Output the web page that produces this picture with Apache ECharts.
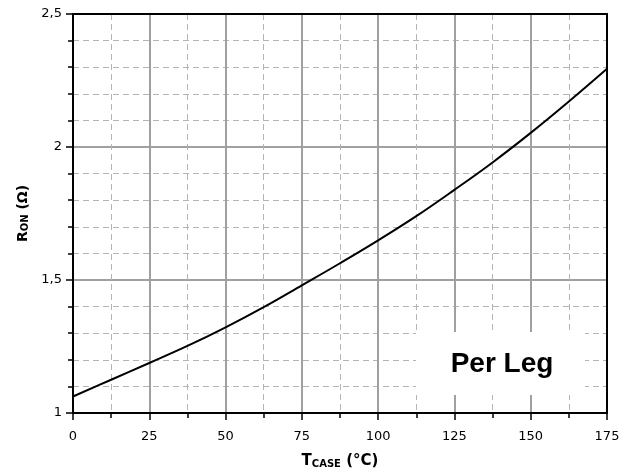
<!DOCTYPE html>
<html>
<head>
<meta charset="utf-8">
<script src="https://cdn.jsdelivr.net/npm/echarts@6/dist/echarts.min.js"></script>
<style>html,body{margin:0;padding:0;background:#fff}#c{width:627px;height:475px}</style>
</head>
<body>
<div id="c"></div>
<script>
var tCase = [0, 12.5, 25, 37.5, 50, 62.5, 75, 87.5, 100, 112.5, 125, 137.5, 150, 162.5, 175];
var rOn = [1.062, 1.125, 1.188, 1.252, 1.322, 1.398, 1.480, 1.563, 1.649, 1.740, 1.839, 1.942, 2.053, 2.171, 2.294];
var xTicks = [0, 25, 50, 75, 100, 125, 150, 175];
var yTicks = [1, 1.5, 2, 2.5];
var annotation = 'Per Leg';

var chart = echarts.init(document.getElementById('c'));
var pts = tCase.map(function (t, i) { return [t, rOn[i]]; });
var labelFont = 'DejaVu Sans';
var xMin = xTicks[0], xMax = xTicks[xTicks.length - 1];
var yMin = yTicks[0], yMax = yTicks[yTicks.length - 1];
chart.setOption({
  animation: false,
  backgroundColor: '#fff',
  grid: { left: 73, right: 20, top: 14, bottom: 62 },
  xAxis: [{
    type: 'value', min: xMin, max: xMax, interval: 25,
    axisLine: { onZero: false, lineStyle: { color: '#000', width: 2 } },
    axisTick: { show: true, inside: false, length: 7, lineStyle: { color: '#000', width: 1.5 } },
    minorTick: { show: true, splitNumber: 2, length: 5, lineStyle: { color: '#000', width: 1.5 } },
    splitLine: { show: true, lineStyle: { color: '#a0a0a0', width: 2 } },
    minorSplitLine: { show: true, lineStyle: { color: '#b4b4b4', width: 1, type: [6, 4] } },
    axisLabel: { margin: 17, fontFamily: labelFont, fontSize: 13, color: '#000' },
    name: '{b|T}{s|CASE}{b| (°C)}', nameLocation: 'middle', nameGap: 40,
    nameTextStyle: { rich: {
      b: { fontFamily: labelFont, fontWeight: 'bold', fontSize: 15, color: '#000' },
      s: { fontFamily: labelFont, fontWeight: 'bold', fontSize: 10, color: '#000', verticalAlign: 'bottom', padding: [6, 0, 0, 0] }
    } }
  }, {
    type: 'value', position: 'top', min: xMin, max: xMax, interval: 25,
    axisLine: { show: true, onZero: false, lineStyle: { color: '#000', width: 2 } },
    axisTick: { show: false }, axisLabel: { show: false }, splitLine: { show: false }
  }],
  yAxis: [{
    type: 'value', min: yMin, max: yMax, interval: 0.5,
    axisLine: { onZero: false, lineStyle: { color: '#000', width: 2 } },
    axisTick: { show: true, inside: false, length: 7, lineStyle: { color: '#000', width: 1.5 } },
    minorTick: { show: true, splitNumber: 5, length: 5, lineStyle: { color: '#000', width: 1.5 } },
    splitLine: { show: true, lineStyle: { color: '#a0a0a0', width: 2 } },
    minorSplitLine: { show: true, lineStyle: { color: '#b4b4b4', width: 1, type: [6, 4] } },
    axisLabel: { margin: 11, fontFamily: labelFont, fontSize: 13, color: '#000',
      formatter: function (v) { return String(v).replace('.', ','); } },
    name: '{b|R}{s|ON}{b| (Ω)}', nameLocation: 'middle', nameGap: 40, nameRotate: 90,
    nameTextStyle: { rich: {
      b: { fontFamily: labelFont, fontWeight: 'bold', fontSize: 14, color: '#000' },
      s: { fontFamily: labelFont, fontWeight: 'bold', fontSize: 10, color: '#000', verticalAlign: 'bottom', padding: [5, 0, 0, 0] }
    } }
  }, {
    type: 'value', position: 'right', min: yMin, max: yMax, interval: 0.5,
    axisLine: { show: true, onZero: false, lineStyle: { color: '#000', width: 2 } },
    axisTick: { show: false }, axisLabel: { show: false }, splitLine: { show: false }
  }],
  graphic: [{
    type: 'rect', z: 1, left: 416, top: 332, shape: { width: 169, height: 63 }, style: { fill: '#fff' }
  }, {
    type: 'text', z: 1,
    style: { text: annotation, x: 502, y: 364, textAlign: 'center', textVerticalAlign: 'middle',
      font: 'bold 28px "Liberation Sans", Arial, sans-serif', fill: '#000' }
  }],
  series: [{
    type: 'line', data: pts, smooth: 0.4, showSymbol: false, z: 3,
    lineStyle: { color: '#000', width: 2 }
  }]
});
</script>
</body>
</html>
